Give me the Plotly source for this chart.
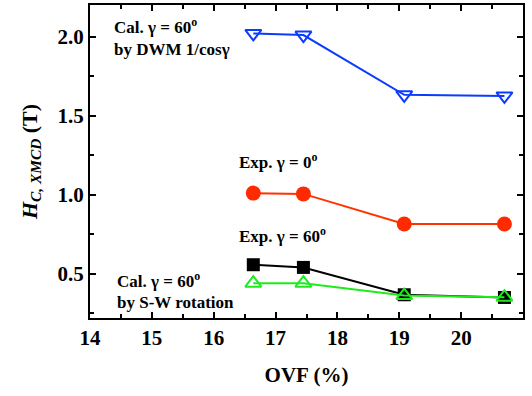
import plotly.graph_objects as go

ovf = [16.64, 17.45, 19.08, 20.70]
cal_dwm = [2.02, 2.01, 1.632, 1.625]
exp_0 = [1.01, 1.005, 0.815, 0.815]
exp_60 = [0.557, 0.54, 0.367, 0.35]
cal_sw = [0.44, 0.44, 0.362, 0.352]

x_ticks = [14, 15, 16, 17, 18, 19, 20, 21]
y_ticks = [0.5, 1.0, 1.5, 2.0]

FONT = "Liberation Serif, Times New Roman, serif"

fig = go.Figure()
fig.add_trace(go.Scatter(x=ovf, y=cal_dwm, mode="lines+markers",
                         line=dict(color="#0A3CFF", width=2),
                         marker=dict(symbol="triangle-down-open", size=14, color="#0A3CFF", line=dict(width=2))))
fig.add_trace(go.Scatter(x=ovf, y=exp_0, mode="lines+markers",
                         line=dict(color="#FF3300", width=2),
                         marker=dict(symbol="circle", size=15, color="#FF2A00")))
fig.add_trace(go.Scatter(x=ovf, y=exp_60, mode="lines+markers",
                         line=dict(color="black", width=2),
                         marker=dict(symbol="square", size=13, color="black")))
fig.add_trace(go.Scatter(x=ovf, y=cal_sw, mode="lines+markers",
                         line=dict(color="#1EEB1E", width=2),
                         marker=dict(symbol="triangle-up-open", size=14, color="#1EEB1E", line=dict(width=2))))

axis_common = dict(showline=True, linewidth=2, linecolor="black", mirror="ticks",
                   ticks="inside", ticklen=6, tickwidth=2, tickcolor="black",
                   showgrid=False, zeroline=False, automargin=False,
                   tickfont=dict(family=FONT, size=21, color="black", weight="bold"))

fig.update_xaxes(range=[14, 21], tickvals=x_ticks,
                 ticktext=["<b>%d</b>" % v for v in x_ticks],
                 minor=dict(ticks="inside", ticklen=4, tickwidth=2, dtick=0.5, tickcolor="black"),
                 title=dict(text="<b>OVF (%)</b>", font=dict(family=FONT, size=21, color="black", weight="bold"), standoff=18),
                 **axis_common)
fig.update_yaxes(range=[0.22, 2.2], tickvals=y_ticks,
                 ticktext=["<b>%.1f</b>" % v for v in y_ticks],
                 minor=dict(ticks="inside", ticklen=4, tickwidth=2, dtick=0.25, tickcolor="black"),
                 title=dict(text="<b><i>H</i><sub><i>C, XMCD</i></sub> (T)</b>",
                            font=dict(family=FONT, size=22, color="black", weight="bold"), standoff=14),
                 **axis_common)

ann_font = dict(family=FONT, size=17, color="black", weight="bold")
anns = [
    (112, 39, "<b>Cal. γ = 60<sup>o</sup></b>"),
    (112, 61, "<b>by DWM 1/cosγ</b>"),
    (237, 174, "<b>Exp. γ = 0<sup>o</sup></b>"),
    (237, 248, "<b>Exp. γ = 60<sup>o</sup></b>"),
    (115, 293, "<b>Cal. γ = 60<sup>o</sup></b>"),
    (115, 314, "<b>by S-W rotation</b>"),
]
L, R, T, B = 90, 9, 5, 78
W, H = 532, 396
for px, py, t in anns:
    fig.add_annotation(x=(px - L) / (W - L - R), y=1 - (py - T) / (H - T - B),
                       xref="paper", yref="paper",
                       xanchor="left", yanchor="bottom", text=t, showarrow=False,
                       font=ann_font)

fig.update_layout(width=W, height=H, showlegend=False,
                  plot_bgcolor="white", paper_bgcolor="white",
                  font=dict(family=FONT, weight="bold"),
                  margin=dict(l=L, r=R, t=T, b=B))

fig.write_html("out.html", config={"displayModeBar": False},
               post_script="document.body.style.margin='0';")
